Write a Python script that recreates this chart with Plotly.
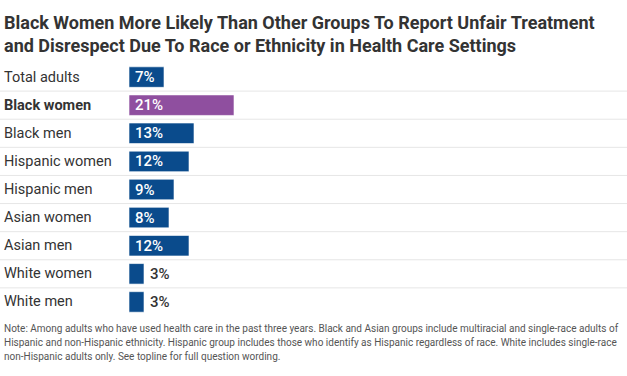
import plotly.graph_objects as go

categories = ["Total adults", "Black women", "Black men", "Hispanic women", "Hispanic men",
              "Asian women", "Asian men", "White women", "White men"]
values = [7, 21, 13, 12, 9, 8, 12, 3, 3]
value_labels = ["7%", "21%", "13%", "12%", "9%", "8%", "12%", "3%", "3%"]
highlight = "Black women"

title_text = ("Black Women More Likely Than Other Groups To Report Unfair Treatment<br>"
              "and Disrespect Due To Race or Ethnicity in Health Care Settings")
note_lines = [
    "Note: Among adults who have used health care in the past three years. Black and Asian groups include multiracial and single-race adults of",
    "Hispanic and non-Hispanic ethnicity. Hispanic group includes those who identify as Hispanic regardless of race. White includes single-race",
    "non-Hispanic adults only. See topline for full question wording.",
]

BLUE = "#0a4b8c"
PURPLE = "#8f4f9f"
FONT = "Roboto"

W, H = 627, 376
ML, MR, MT, MB = 129, 3, 63, 60
PW = W - ML - MR

colors = [PURPLE if c == highlight else BLUE for c in categories]

fig = go.Figure(go.Bar(
    x=values, y=categories, orientation="h",
    marker=dict(color=colors, line=dict(color="rgba(255,255,255,0.6)", width=1)),
    hoverinfo="skip",
))

annotations = []
shapes = []
for i, (c, v, lab) in enumerate(zip(categories, values, value_labels)):
    bold = c == highlight
    annotations.append(dict(
        x=0, xref="paper", xshift=-ML + 2, xanchor="left",
        y=c, yref="y", yanchor="middle", showarrow=False,
        text=f"<b>{c}</b>" if bold else c,
        font=dict(family=FONT, size=14.5, color="#333333"),
    ))
    inside = v >= 5
    annotations.append(dict(
        x=0 if inside else v, xref="x", xshift=4, xanchor="left",
        y=c, yref="y", yanchor="middle", showarrow=False,
        text=lab,
        font=dict(family=FONT, size=15, weight=500, color="white" if inside else "#333333"),
    ))
    if i < len(categories) - 1:
        shapes.append(dict(
            type="line", xref="paper", x0=-ML / PW, x1=1 + MR / PW,
            yref="y", y0=i + 0.5, y1=i + 0.5,
            line=dict(color="#e6e6e6", width=1), layer="below",
        ))

annotations.append(dict(
    x=0, xref="paper", xshift=-ML + 2, xanchor="left",
    y=1, yref="paper", yshift=MT - 10, yanchor="top", showarrow=False, align="left",
    text=f"<b>{title_text}</b>",
    font=dict(family=FONT, size=18, color="#333333"),
))
for j, line in enumerate(note_lines):
    annotations.append(dict(
        x=0, xref="paper", xshift=-ML + 2, xanchor="left",
        y=0, yref="paper", yshift=-(328 + 14 * j - (H - MB)), yanchor="middle",
        showarrow=False, align="left",
        text=line,
        font=dict(family=FONT, size=10, color="#555555"),
    ))

fig.update_layout(
    width=W, height=H,
    margin=dict(l=ML, r=MR, t=MT, b=MB),
    plot_bgcolor="white", paper_bgcolor="white",
    bargap=0.27,
    showlegend=False,
    xaxis=dict(range=[0, PW / 5], visible=False, fixedrange=True),
    yaxis=dict(autorange="reversed", showticklabels=False, showgrid=False,
               zeroline=False, fixedrange=True),
    annotations=annotations,
    shapes=shapes,
)

fig.write_html("out.html", config={"displayModeBar": False},
               post_script="document.body.style.margin='0';document.body.style.padding='0';")
